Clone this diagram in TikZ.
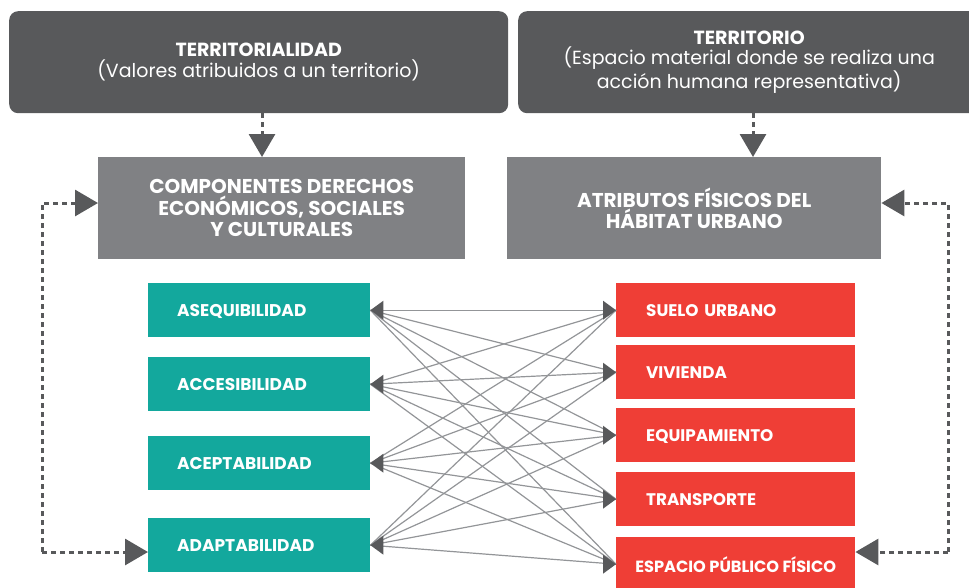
\documentclass[tikz,border=0pt]{standalone}
\usepackage{fontspec}
\setmainfont{Poppins}
\usetikzlibrary{arrows.meta}
\definecolor{darkbox}{HTML}{58595B}
\definecolor{midbox}{HTML}{808184}
\definecolor{tealbox}{HTML}{13A89D}
\definecolor{redbox}{HTML}{EF3E36}
\definecolor{linkgray}{HTML}{939598}
\tikzset{
  topbox/.style={fill=darkbox, rounded corners=9pt, text=white, align=center, anchor=north west, inner sep=0pt, font=\fontsize{19}{20.5}\selectfont},
  midboxs/.style={fill=midbox, text=white, align=center, anchor=north west, inner sep=0pt, font=\bfseries\fontsize{20}{21.5}\selectfont},
  compbox/.style={fill=tealbox, text=white, anchor=north west, align=left, inner ysep=0pt, inner xsep=29pt, text width=164pt, minimum height=54pt, text depth=-1pt, font=\bfseries\fontsize{17}{18}\selectfont},
  attrbox/.style={fill=redbox, text=white, anchor=north west, align=left, inner ysep=0pt, inner xsep=30pt, text width=179pt, minimum height=54pt, text depth=-1pt, font=\bfseries\fontsize{16.8}{18}\selectfont},
  feedback/.style={draw=darkbox, line width=3pt, dash pattern=on 5pt off 4pt, -{Triangle[length=23pt,width=26pt,fill=darkbox]}},
  link/.style={draw=linkgray, line width=1.2pt},
  headtip/.style={fill=darkbox},
}
\begin{document}
\begin{tikzpicture}[x=1pt,y=-1pt]
\useasboundingbox (0,0) rectangle (969,587);
% top boxes
\node[topbox, minimum width=499pt, minimum height=102pt] (tl) at (9,11) {\textbf{TERRITORIALIDAD}\\(Valores atribuidos a un territorio)};
\node[topbox, minimum width=462pt, minimum height=102pt] (tr) at (518,11) {\textbf{TERRITORIO}\\(Espacio material donde se realiza una\\acción humana representativa)};
% middle boxes
\node[midboxs, minimum width=367pt, minimum height=102pt] (cl) at (98,157) {COMPONENTES DERECHOS\\ECONÓMICOS, SOCIALES\\Y CULTURALES};
\node[midboxs, minimum width=374pt, minimum height=102pt] (cr) at (507,157) {ATRIBUTOS FÍSICOS DEL\\HÁBITAT URBANO};
% teal boxes
\node[compbox] (a1) at (148,283) {ASEQUIBILIDAD};
\node[compbox] (a2) at (148,357) {ACCESIBILIDAD};
\node[compbox] (a3) at (148,436) {ACEPTABILIDAD};
\node[compbox] (a4) at (148,518) {ADAPTABILIDAD};
% red boxes
\node[attrbox] (b1) at (616,283) {SUELO URBANO};
\node[attrbox] (b2) at (616,345) {VIVIENDA};
\node[attrbox] (b3) at (616,408) {EQUIPAMIENTO};
\node[attrbox] (b4) at (616,472) {TRANSPORTE};
\node[fill=redbox, text=white, anchor=north west, inner sep=0pt, minimum width=239pt, minimum height=54pt, text depth=-1pt, font=\bfseries\fontsize{16.2}{18}\selectfont] (b5) at (616,537) {ESPACIO PÚBLICO FÍSICO};
% down arrows
\coordinate (dl) at (262,0);
\coordinate (dr) at (753,0);
\draw[feedback] (dl |- tl.south) -- (dl |- cl.north);
\draw[feedback] (dr |- tr.south) -- (dr |- cr.north);
% feedback loops
\coordinate (lx) at (42,203);
\coordinate (ly) at (42,552);
\coordinate (rx) at (948,203);
\coordinate (ry) at (948,552);
\draw[feedback] (ly) -- (ly -| a4.west);
\draw[feedback] (ly) -- (lx) -- (lx -| cl.west);
\draw[feedback] (ry) -- (ry -| b5.east);
\draw[feedback] (ry) -- (rx) -- (rx -| cr.east);
% links
\foreach \a in {a1,a2,a3,a4}{
  \foreach \b in {b1,b2,b3,b4,b5}{
    \draw[link] (\a.east) -- (\b.west);
  }
}
\foreach \a in {a1,a2,a3,a4}{
  \fill[headtip] (\a.east) -- ++(13,-9.5) -- ++(0,19) -- cycle;
}
\foreach \b in {b1,b2,b3,b4,b5}{
  \fill[headtip] (\b.west) -- ++(-13,-9.5) -- ++(0,19) -- cycle;
}
\end{tikzpicture}
\end{document}
